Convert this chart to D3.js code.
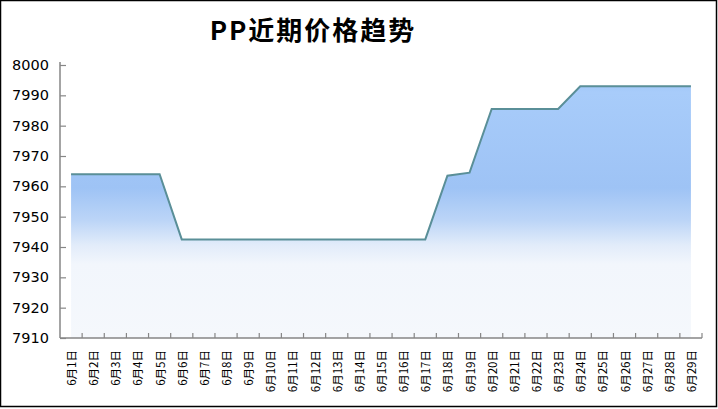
<!DOCTYPE html>
<html><head><meta charset="utf-8">
<script src="https://cdn.jsdelivr.net/npm/d3@7"></script>
<style>body{margin:0;background:#fff}svg{display:block}</style>
</head><body>
<svg id="c" width="718" height="409"></svg>
<script>
const title = "PP近期价格趋势";
const categories = ["6月1日","6月2日","6月3日","6月4日","6月5日","6月6日","6月7日","6月8日","6月9日","6月10日","6月11日","6月12日","6月13日","6月14日","6月15日","6月16日","6月17日","6月18日","6月19日","6月20日","6月21日","6月22日","6月23日","6月24日","6月25日","6月26日","6月27日","6月28日","6月29日"];
const prices = [7964,7964,7964,7964,7964,7942.5,7942.5,7942.5,7942.5,7942.5,7942.5,7942.5,7942.5,7942.5,7942.5,7942.5,7942.5,7963.5,7964.5,7985.5,7985.5,7985.5,7985.5,7993,7993,7993,7993,7993,7993];
const yTicks = [7910,7920,7930,7940,7950,7960,7970,7980,7990,8000];

const svg = d3.select("#c");
svg.append("rect").attr("x",0.5).attr("y",0.5).attr("width",716).attr("height",406)
  .attr("fill","#fff").attr("stroke","#000").attr("stroke-width",1.5);

const mL = 60, mR = 702, mT = 65, mB = 338;
const x = d3.scaleBand().domain(categories).range([mL, mR]);
const y = d3.scaleLinear().domain([7910, 8000]).range([mB, mT]);

const defs = svg.append("defs");
const g = defs.append("linearGradient").attr("id","ag").attr("gradientUnits","userSpaceOnUse")
  .attr("x1",0).attr("x2",0).attr("y1",mT).attr("y2",mB);
[[0,"#95bcf3"],[0.1,"#a8ccfa"],[0.45,"#9ec3f5"],[0.57,"#bcd5f7"],[0.66,"#e2ecfa"],[0.73,"#f2f6fc"],[1,"#f5f8fc"]]
  .forEach(([o,c])=>g.append("stop").attr("offset",o).attr("stop-color",c));

const cx = d => x(d) + x.bandwidth()/2;
const data = categories.map((c,i)=>({c, v: prices[i]}));

svg.append("path").datum(data)
  .attr("d", d3.area().x(d=>cx(d.c)).y0(mB).y1(d=>y(d.v)))
  .attr("fill","url(#ag)");
svg.append("path").datum(data)
  .attr("d", d3.line().x(d=>cx(d.c)).y(d=>y(d.v)))
  .attr("fill","none").attr("stroke","#5a8f98").attr("stroke-width",2);

// Y axis
const ya = svg.append("g").attr("transform",`translate(${mL},0)`)
  .call(d3.axisLeft(y).tickValues(yTicks).tickSize(-6).tickPadding(11).tickFormat(d3.format("d")));
ya.select(".domain").attr("stroke","#868686").attr("stroke-width",1.5).attr("d",`M0,${mT-3}V${mB}`);
ya.selectAll(".tick line").attr("stroke","#868686").attr("stroke-width",1.2);
ya.selectAll("text").attr("font-family","DejaVu Sans, Verdana, sans-serif").attr("font-size","14.5px").attr("fill","#000");

// X axis
const xa = svg.append("g").attr("transform",`translate(0,${mB})`)
  .call(d3.axisBottom(x).tickSize(0).tickPadding(0));
xa.select(".domain").attr("stroke","#868686").attr("stroke-width",1.5).attr("d",`M${mL},0H${mR}`);
xa.selectAll(".tick text").remove();
const bounds = categories.map(c => x(c)).concat([mR]);
xa.selectAll(".bt").data(bounds.slice(1)).enter().append("line")
  .attr("x1",d=>d).attr("x2",d=>d).attr("y1",0).attr("y2",-5)
  .attr("stroke","#868686").attr("stroke-width",1.2);
xa.selectAll(".lbl").data(categories).enter().append("text")
  .attr("transform", d=>`translate(${cx(d)+5},12) rotate(-90)`)
  .attr("text-anchor","end")
  .attr("font-family","Noto Sans CJK SC, sans-serif").attr("font-size","11.5px").attr("fill","#000")
  .text(d=>d);

svg.append("text").attr("x",313).attr("y",40).attr("text-anchor","middle")
  .attr("font-family","Noto Sans CJK SC, sans-serif").attr("font-weight","bold")
  .attr("font-size","26px").attr("letter-spacing","2px").attr("fill","#000").text(title);
</script>
</body></html>
